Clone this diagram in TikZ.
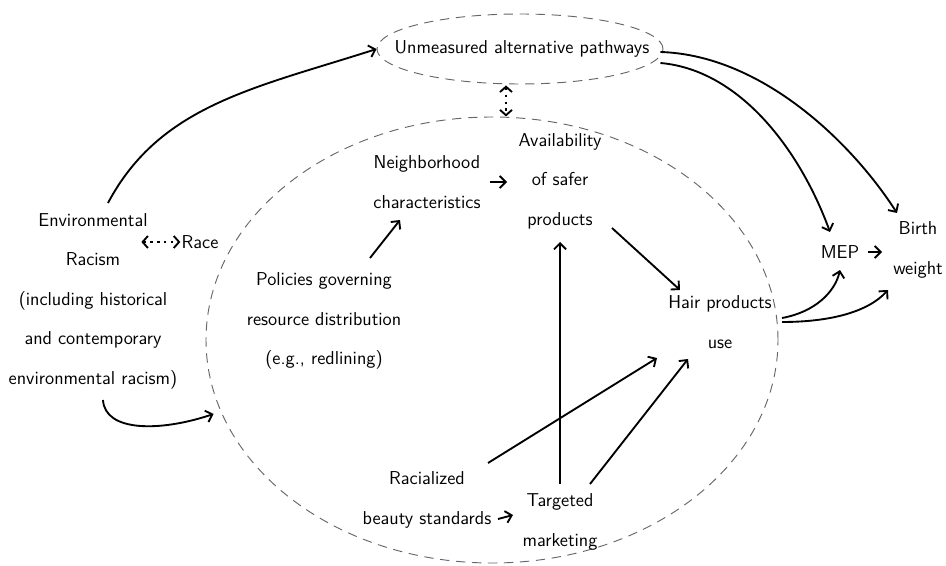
\documentclass[tikz,border=0pt]{standalone}
\usetikzlibrary{arrows.meta,calc,shapes.geometric}
\begin{document}
\begin{tikzpicture}[x=0.75pt,y=-0.75pt,
  lbl/.style={align=center,inner sep=0pt,font=\sffamily\fontsize{14}{29.6}\selectfont},
  arr/.style={line width=1.4pt,-{Straight Barb[length=4.5pt,width=9pt,line width=1.4pt]}},
  darr/.style={line width=1.6pt,dash pattern=on 1.6pt off 3.6pt,{Straight Barb[length=4pt,width=9pt,line width=1.4pt]}-{Straight Barb[length=4pt,width=9pt,line width=1.4pt]}},
  oval/.style={ellipse,draw=black!60,dash pattern=on 7pt off 5pt,line width=0.7pt,inner sep=0pt}]
\useasboundingbox (0,0) rectangle (946,566);
% ellipses
\node[oval,minimum width=429pt,minimum height=334.5pt] (big) at (492,340) {};
\node[oval,minimum width=214.5pt,minimum height=52.5pt] (unmE) at (520,49) {};
% labels
\node[lbl] (unm) at (522,49) {Unmeasured alternative pathways};
\node[lbl] (env) at (93,301) {Environmental\\Racism\\(including historical\\and contemporary\\environmental racism)};
\node[lbl] (race) at (200,242) {Race};
\node[lbl] (nb) at (427,182) {Neighborhood\\characteristics};
\node[lbl] (av) at (560,181) {Availability\\of safer\\products};
\node[lbl] (pol) at (324,321) {Policies governing\\resource distribution\\(e.g., redlining)};
\node[lbl] (hair) at (720,322) {Hair products\\use};
\node[lbl] (mep) at (840,252) {MEP};
\node[lbl] (bw) at (918,250) {Birth\\weight};
\node[lbl] (rac) at (427,500) {Racialized\\beauty standards};
\node[lbl] (tm) at (560,522) {Targeted\\marketing};
% connectors
\draw[arr] ($(env)+(15,-98)$) .. controls (160,105) and (255,88) .. (unmE.west);
\draw[arr] ($(env)+(10,99)$) .. controls (105,432) and (160,432) .. ($(big.west)+(8,74)$);
\draw[darr] ($(race.west)+(-40,0)$) -- ($(race.west)+(-1,0)$);
\draw[darr] ($(unmE.south)+(-14,1)$) -- ($(unmE.south)+(-14,32)$);
\draw[arr] ($(pol)+(46,-63)$) -- ($(nb)+(-27,38)$);
\draw[arr] ($(nb)+(63,0)$) -- ($(av)+(-53,1)$);
\draw[arr] ($(av)+(52,47)$) -- ($(hair)+(-40,-32)$);
\draw[arr] ($(tm)+(0,-38)$) -- ($(av)+(0,61)$);
\draw[arr] ($(rac)+(61,-37)$) -- ($(hair)+(-63,36)$);
\draw[arr] ($(tm)+(30,-38)$) -- ($(hair)+(-32,37)$);
\draw[arr] ($(rac)+(71,19)$) -- ($(tm)+(-47,-7)$);
\draw[arr] ($(unmE.east)+(-3,3)$) .. controls (760,55) and (850,140) .. ($(bw)+(-21,-37)$);
\draw[arr] ($(unmE.east)+(-3,14)$) .. controls (740,70) and (800,150) .. ($(mep)+(-10,-20)$);
\draw[arr] ($(hair)+(62,-4)$) .. controls (815,312) and (835,292) .. ($(mep)+(0,18)$);
\draw[arr] ($(hair)+(62,0)$) .. controls (830,322) and (868,312) .. ($(bw)+(-30,40)$);
\draw[arr] ($(mep)+(28,0)$) -- ($(bw)+(-36,2)$);
\end{tikzpicture}
\end{document}
